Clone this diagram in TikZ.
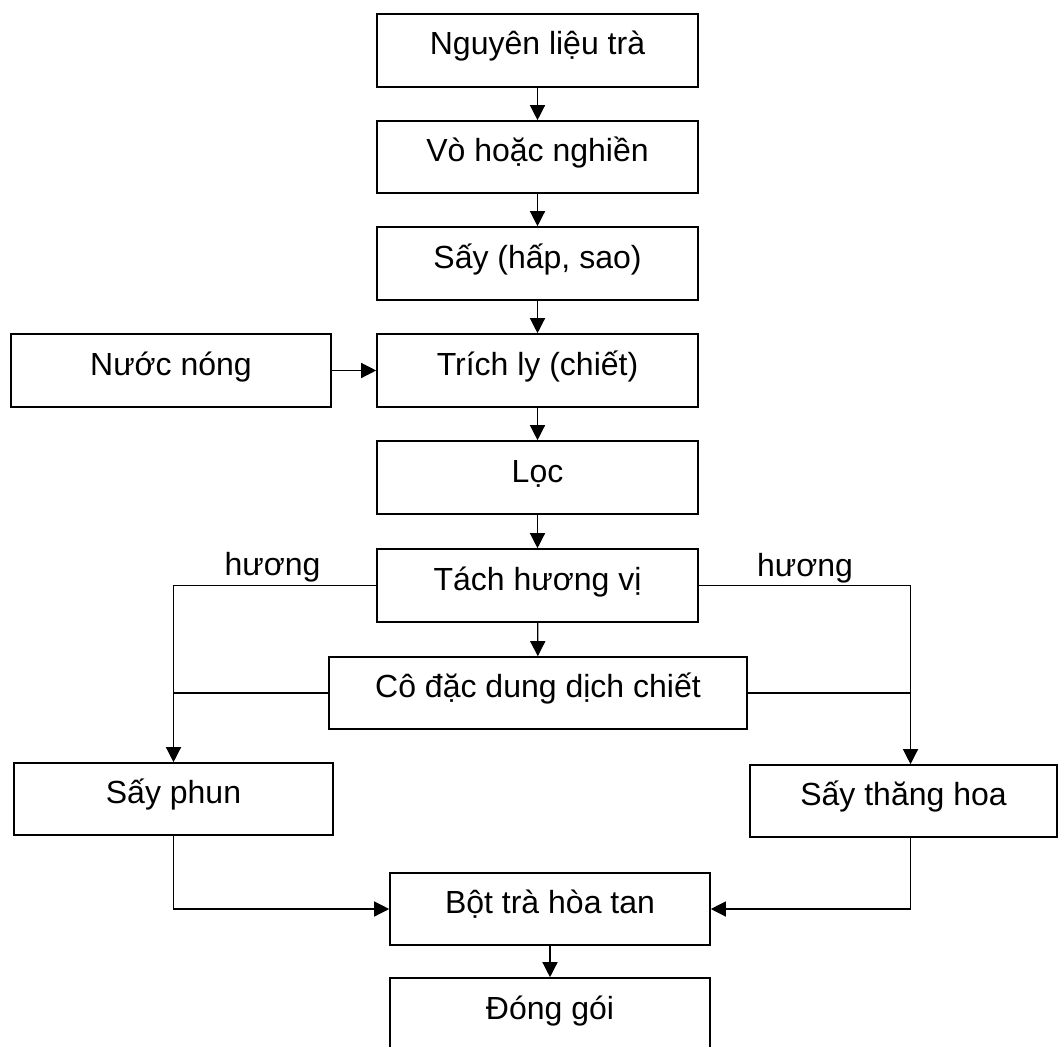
\documentclass[tikz,border=0pt]{standalone}
\usepackage{fontspec}
\setmainfont{Liberation Sans}
\usetikzlibrary{arrows.meta}
\newcommand\mybox[6]{\node[box, minimum width={#4-#2}, minimum height={#5-#3}] (#1) at ({(#2+#4)/2},{(#3+#5)/2}) {#6};}
\begin{document}
\begin{tikzpicture}[x=1pt,y=-1pt,
  box/.style={draw, line width=1.6pt, inner sep=0pt, text height=24pt, text depth=15pt, font=\fontsize{32}{38}\selectfont},
  conn/.style={line width=1.3pt},
  arr/.style={conn, -{Triangle[length=15pt,width=15pt]}},
  lbl/.style={font=\fontsize{32}{38}\selectfont, inner sep=0pt, anchor=base}]
\useasboundingbox (0,0) rectangle (1059,1046);
\fill[white] (0,0) rectangle (1059,1046);
\mybox{n1}{377}{14}{698}{87}{Nguyên liệu trà}
\mybox{n2}{377}{121}{698}{193}{Vò hoặc nghiền}
\mybox{n3}{377}{227}{698}{300}{Sấy (hấp, sao)}
\mybox{n4}{377}{334}{698}{407}{Trích ly (chiết)}
\mybox{nn}{11}{334}{331}{407}{Nước nóng}
\mybox{n5}{377}{441}{698}{514}{Lọc}
\mybox{n6}{377}{549}{698}{622}{Tách hương vị}
\mybox{n7}{329}{657}{747}{729}{Cô đặc dung dịch chiết}
\mybox{sp}{14}{763}{333}{835}{Sấy phun}
\mybox{st}{750}{765}{1057}{837}{Sấy thăng hoa}
\mybox{bt}{390}{873}{710}{945}{Bột trà hòa tan}
\mybox{dg}{390}{978}{710}{1051}{Đóng gói}
\node[lbl] (h1) at (272.5,575) {hương};
\node[lbl] (h2) at (805,576) {hương};
\coordinate (rx) at (910.5,0);
\coordinate (rj) at (n6.east -| rx);
\draw[arr] (n1) -- (n2);
\draw[arr] (n2) -- (n3);
\draw[arr] (n3) -- (n4);
\draw[arr] (nn) -- (n4);
\draw[arr] (n4) -- (n5);
\draw[arr] (n5) -- (n6);
\draw[arr] (n6) -- (n7);
\draw[arr] (n6.west) -| (sp);
\draw[conn] (n7.west) -- (n7.west -| sp);
\draw[arr] (n6.east) -- (rj) -- (rj |- st.north);
\draw[conn] (n7.east) -- (n7.east -| rj);
\draw[arr] (sp.south) |- (bt.west);
\draw[arr] (st.south -| rj) |- (bt.east);
\draw[arr] (bt) -- (dg);
\end{tikzpicture}
\end{document}
